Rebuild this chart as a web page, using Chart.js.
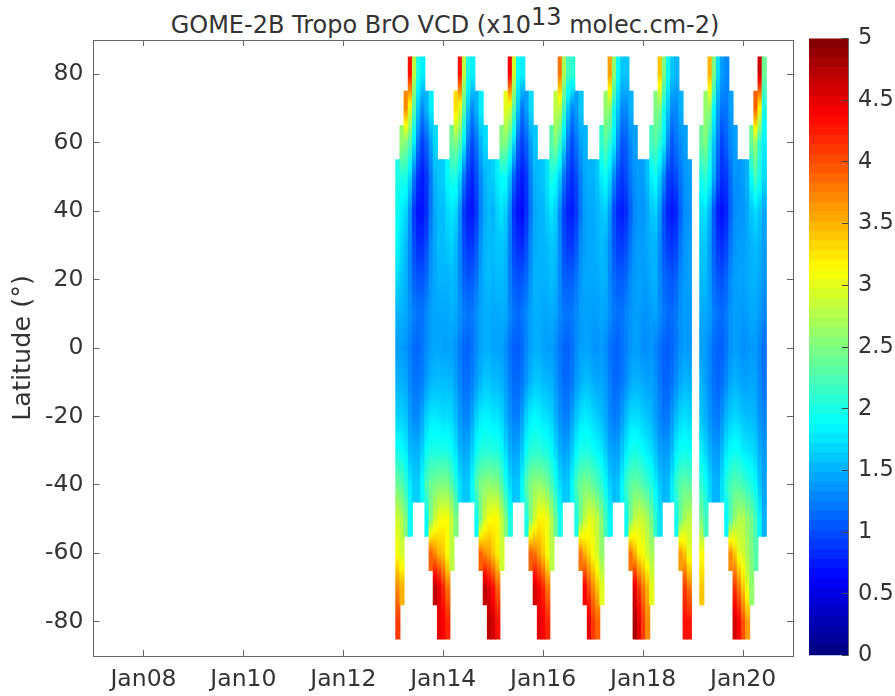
<!DOCTYPE html>
<html><head><meta charset="utf-8">
<script src="https://cdn.jsdelivr.net/npm/chart.js@4"></script>
<style>
html,body{margin:0;padding:0;background:#fff}
#wrap{position:relative;width:895px;height:696px;overflow:hidden}
canvas{position:absolute;left:0;top:0}
#ttl{position:absolute;left:0;width:890px;top:11px;text-align:center;font:24px "DejaVu Sans";color:#333;white-space:nowrap}
#ttl sup{font-size:24px;line-height:0;vertical-align:8px}
</style></head><body>
<div id="wrap">
<div id="ttl">GOME-2B Tropo BrO VCD (x10<sup>13</sup> molec.cm-2)</div>
<canvas id="map" width="895" height="696"></canvas>
<canvas id="bar" width="895" height="696"></canvas>
</div>
<script>
const _ = null;
// Monthly columns from Jan 2013 (one line per year); rows are latitude bins, 10 degrees wide.
const lat80 = [
_,_,_,4.3,2.8,2.0,1.8,_,_,_,_,_,
_,_,_,4.3,2.8,2.0,1.8,_,_,_,_,_,
_,_,_,4.4,2.9,1.9,1.8,_,_,_,_,_,
_,_,_,3.8,2.7,2.2,2.1,_,_,_,_,_,
_,_,_,3.6,2.6,1.9,1.6,1.6,_,_,_,_,
_,_,_,3.4,2.5,1.9,1.6,1.5,_,_,_,_,
_,_,_,3.5,2.5,1.7,1.4,1.3,_,_,_,_,
_,_,_,4.6,2.4];
const lat70 = [
_,_,3.7,3.0,2.3,1.6,1.3,1.5,1.8,_,_,_,
_,_,3.3,3.0,2.3,1.6,1.3,1.5,1.8,_,_,_,
_,_,3.0,2.9,2.3,1.6,1.2,1.4,1.7,_,_,_,
_,_,2.8,2.8,2.2,1.6,1.3,1.4,1.6,_,_,_,
_,_,2.6,2.6,2.0,1.6,1.3,1.3,1.5,_,_,_,
_,_,2.5,2.5,2.0,1.6,1.3,1.3,1.5,_,_,_,
_,_,2.6,2.6,1.9,1.4,1.2,1.2,1.4,_,_,_,
_,_,3.9,3.1,2.0];
const lat60 = [
_,2.6,2.5,2.3,1.8,1.2,0.95,1.1,1.4,1.7,_,_,
_,2.4,2.5,2.3,1.8,1.2,1.0,1.2,1.5,1.7,_,_,
_,2.5,2.5,2.2,1.7,1.1,0.95,1.1,1.4,1.6,_,_,
_,2.3,2.5,2.2,1.7,1.2,1.0,1.2,1.4,1.5,_,_,
_,2.1,2.3,2.1,1.8,1.3,1.05,1.1,1.3,1.4,_,_,
_,2.2,2.3,2.1,1.8,1.3,1.05,1.2,1.3,1.4,_,_,
_,2.4,2.5,2.1,1.6,1.2,0.95,1.1,1.3,1.4,_,_,
_,2.4,2.6,2.1,1.8];
const lat50 = [
2.0,2.0,2.0,1.7,1.2,0.85,0.75,0.9,1.2,1.5,1.6,1.65,
1.85,2.0,2.0,1.7,1.2,0.9,0.8,1.0,1.3,1.5,1.6,1.65,
1.8,1.9,1.9,1.6,1.1,0.85,0.75,0.9,1.25,1.5,1.55,1.6,
1.75,2.0,1.9,1.65,1.2,0.95,0.85,1.0,1.25,1.45,1.5,1.5,
1.6,1.8,1.9,1.7,1.3,1.0,0.9,1.0,1.2,1.35,1.4,1.4,
1.55,1.8,1.9,1.65,1.3,0.95,0.9,1.0,1.2,1.35,1.4,_,
_,2.0,2.1,1.9,1.45,1.05,0.85,0.9,1.15,1.35,1.35,1.4,
1.5,1.9,2.2,2.0,1.7];
const lat40 = [
1.95,1.8,1.7,1.35,0.9,0.7,0.7,0.85,1.2,1.45,1.55,1.55,
1.7,1.75,1.7,1.35,0.9,0.75,0.72,0.9,1.25,1.45,1.55,1.5,
1.65,1.75,1.65,1.3,0.85,0.7,0.68,0.85,1.2,1.45,1.5,1.5,
1.65,1.75,1.65,1.3,0.95,0.78,0.75,0.9,1.2,1.4,1.45,1.45,
1.5,1.6,1.65,1.4,1.0,0.8,0.75,0.85,1.1,1.3,1.35,1.35,
1.45,1.6,1.65,1.4,1.0,0.78,0.72,0.8,1.1,1.3,1.35,_,
_,1.7,1.75,1.5,1.05,0.75,0.68,0.78,1.1,1.3,1.35,1.35,
1.45,1.6,1.7,1.6,1.45];
const lat30 = [
1.85,1.7,1.55,1.3,1.0,0.85,0.85,1.0,1.3,1.45,1.55,1.55,
1.6,1.65,1.55,1.3,1.0,0.88,0.88,1.05,1.35,1.5,1.55,1.55,
1.6,1.6,1.55,1.25,0.95,0.85,0.82,1.0,1.3,1.45,1.5,1.5,
1.55,1.6,1.55,1.3,1.0,0.9,0.9,1.05,1.3,1.4,1.45,1.45,
1.5,1.55,1.5,1.3,1.05,0.92,0.9,1.0,1.2,1.35,1.4,1.4,
1.45,1.5,1.5,1.3,1.05,0.92,0.88,0.95,1.2,1.35,1.4,_,
_,1.6,1.6,1.4,1.1,0.9,0.85,0.95,1.2,1.35,1.4,1.4,
1.45,1.5,1.55,1.5,1.4];
const lat20 = [
1.7,1.6,1.5,1.3,1.1,1.05,1.05,1.15,1.35,1.45,1.5,1.5,
1.5,1.55,1.5,1.3,1.1,1.05,1.08,1.2,1.4,1.5,1.55,1.5,
1.55,1.55,1.5,1.25,1.08,1.02,1.05,1.15,1.35,1.5,1.5,1.5,
1.5,1.55,1.5,1.3,1.1,1.08,1.1,1.2,1.35,1.45,1.45,1.45,
1.45,1.5,1.5,1.3,1.15,1.08,1.08,1.15,1.3,1.4,1.42,1.4,
1.4,1.48,1.5,1.3,1.15,1.08,1.05,1.12,1.3,1.38,1.4,_,
_,1.55,1.55,1.4,1.15,1.05,1.02,1.12,1.3,1.4,1.42,1.42,
1.45,1.5,1.5,1.45,1.35];
const lat10 = [
1.5,1.5,1.45,1.35,1.25,1.2,1.2,1.3,1.4,1.45,1.45,1.45,
1.45,1.5,1.45,1.35,1.25,1.2,1.22,1.32,1.42,1.48,1.48,1.45,
1.45,1.48,1.45,1.3,1.2,1.15,1.2,1.3,1.42,1.48,1.48,1.45,
1.45,1.48,1.42,1.3,1.22,1.2,1.22,1.3,1.4,1.42,1.42,1.4,
1.4,1.45,1.42,1.32,1.22,1.18,1.2,1.28,1.35,1.4,1.4,1.35,
1.35,1.4,1.42,1.32,1.22,1.15,1.15,1.22,1.35,1.4,1.38,_,
_,1.45,1.45,1.4,1.25,1.18,1.15,1.22,1.35,1.4,1.4,1.38,
1.4,1.45,1.45,1.38,1.28];
const lat0 = [
1.4,1.4,1.35,1.25,1.15,1.12,1.2,1.3,1.4,1.45,1.45,1.42,
1.42,1.42,1.35,1.22,1.12,1.1,1.18,1.3,1.42,1.48,1.48,1.42,
1.42,1.42,1.32,1.18,1.1,1.08,1.15,1.28,1.42,1.48,1.48,1.42,
1.4,1.4,1.32,1.2,1.12,1.1,1.18,1.3,1.4,1.42,1.42,1.35,
1.35,1.38,1.32,1.2,1.12,1.1,1.18,1.25,1.35,1.4,1.38,1.32,
1.32,1.35,1.28,1.18,1.1,1.08,1.12,1.22,1.35,1.4,1.36,_,
_,1.4,1.38,1.28,1.15,1.1,1.1,1.2,1.35,1.4,1.38,1.32,
1.35,1.38,1.38,1.28,1.18];
const latS10 = [
1.5,1.5,1.45,1.3,1.2,1.2,1.25,1.4,1.5,1.55,1.55,1.55,
1.55,1.52,1.42,1.28,1.18,1.18,1.25,1.4,1.52,1.6,1.6,1.55,
1.55,1.5,1.4,1.25,1.15,1.15,1.22,1.38,1.52,1.6,1.6,1.55,
1.52,1.5,1.38,1.25,1.15,1.15,1.22,1.38,1.48,1.55,1.55,1.48,
1.45,1.45,1.38,1.25,1.15,1.15,1.22,1.32,1.45,1.5,1.5,1.45,
1.42,1.42,1.35,1.22,1.12,1.12,1.2,1.32,1.45,1.52,1.5,_,
_,1.5,1.42,1.3,1.18,1.12,1.18,1.3,1.45,1.5,1.48,1.42,
1.42,1.45,1.42,1.3,1.2];
const latS20 = [
1.65,1.65,1.6,1.4,1.3,1.3,1.45,1.65,1.75,1.78,1.75,1.7,
1.72,1.68,1.55,1.38,1.28,1.28,1.45,1.65,1.78,1.82,1.8,1.75,
1.75,1.68,1.5,1.35,1.25,1.25,1.42,1.65,1.8,1.85,1.82,1.75,
1.72,1.65,1.5,1.35,1.25,1.25,1.42,1.6,1.72,1.78,1.75,1.68,
1.62,1.55,1.45,1.3,1.22,1.25,1.4,1.55,1.7,1.72,1.7,1.62,
1.58,1.52,1.4,1.28,1.2,1.22,1.38,1.55,1.68,1.72,1.68,_,
_,1.58,1.5,1.35,1.25,1.22,1.35,1.52,1.62,1.68,1.65,1.58,
1.55,1.55,1.5,1.35,1.28];
const latS30 = [
1.95,1.9,1.8,1.55,1.5,1.5,1.65,1.9,2.0,2.0,2.0,2.0,
2.0,1.9,1.75,1.52,1.45,1.48,1.65,1.9,2.02,2.05,2.05,2.02,
2.02,1.9,1.7,1.5,1.42,1.45,1.62,1.9,2.05,2.08,2.08,2.02,
2.0,1.88,1.7,1.5,1.42,1.45,1.62,1.85,1.98,2.0,2.0,1.92,
1.85,1.78,1.62,1.45,1.4,1.42,1.6,1.8,1.95,1.98,1.95,1.88,
1.8,1.72,1.58,1.42,1.38,1.4,1.55,1.8,1.92,1.95,1.92,_,
_,1.8,1.68,1.5,1.4,1.38,1.55,1.75,1.88,1.92,1.9,1.8,
1.75,1.72,1.65,1.48,1.38];
const latS40 = [
2.4,2.3,2.1,1.8,1.65,1.65,1.9,2.25,2.4,2.45,2.5,2.5,
2.5,2.3,2.05,1.75,1.6,1.62,1.88,2.3,2.5,2.55,2.6,2.55,
2.55,2.3,2.0,1.72,1.58,1.6,1.88,2.3,2.5,2.6,2.6,2.55,
2.45,2.25,2.0,1.72,1.6,1.62,1.88,2.22,2.4,2.48,2.45,2.35,
2.25,2.1,1.9,1.65,1.55,1.6,1.85,2.15,2.32,2.38,2.35,2.25,
2.15,2.02,1.82,1.62,1.52,1.55,1.8,2.12,2.3,2.35,2.32,_,
_,2.1,1.95,1.7,1.52,1.5,1.75,2.05,2.2,2.3,2.28,2.2,
2.1,2.02,1.88,1.62,1.42];
const latS50 = [
2.9,2.75,2.5,1.9,_,_,_,1.9,2.5,2.85,3.05,3.1,
3.1,2.85,2.5,_,_,_,_,1.9,2.45,2.9,3.1,3.15,
3.15,2.85,2.5,2.0,_,_,_,2.0,2.5,2.9,3.15,3.15,
3.05,2.75,2.4,1.95,_,_,_,2.0,2.45,2.8,3.0,2.95,
2.8,2.55,2.2,1.85,_,_,_,1.95,2.45,2.8,2.9,2.85,
2.7,2.45,2.1,1.75,_,_,_,1.95,2.4,2.7,2.8,_,
_,2.45,2.2,_,_,_,_,1.85,2.25,2.6,2.75,2.75,
2.6,2.45,2.2,1.85,1.5];
const latS60 = [
3.1,2.9,_,_,_,_,_,_,3.9,3.7,3.5,3.4,
3.1,2.8,_,_,_,_,_,_,3.9,3.7,3.6,3.4,
3.2,2.9,_,_,_,_,_,_,3.9,3.8,3.6,3.4,
3.1,2.8,_,_,_,_,_,_,3.8,3.5,3.3,3.1,
2.9,2.6,_,_,_,_,_,_,3.8,3.5,3.2,3.1,
2.9,2.7,_,_,_,_,_,_,3.6,3.4,3.0,_,
_,3.1,_,_,_,_,_,_,3.7,3.4,3.0,2.9,
2.7,2.5,2.3];
const latS70 = [
3.7,3.5,_,_,_,_,_,_,_,4.7,4.5,4.2,
3.8,_,_,_,_,_,_,_,_,4.7,4.5,4.3,
3.9,_,_,_,_,_,_,_,_,4.6,4.4,4.2,
3.8,_,_,_,_,_,_,_,_,4.4,4.0,3.7,
3.4,3.0,_,_,_,_,_,_,_,4.5,4.1,3.8,
3.5,3.0,_,_,_,_,_,_,_,4.1,3.8,_,
_,3.4,_,_,_,_,_,_,_,4.1,3.8,3.4,
3.0,2.6];
const latS80 = [
4.1,_,_,_,_,_,_,_,_,_,4.5,4.4,
4.2,_,_,_,_,_,_,_,_,_,4.7,4.6,
4.3,_,_,_,_,_,_,_,_,_,4.5,4.4,
4.2,_,_,_,_,_,_,_,_,_,4.5,4.1,
3.9,_,_,_,_,_,_,_,_,4.8,4.5,4.1,
3.7,_,_,_,_,_,_,_,_,4.3,4.3,_,
_,_,_,_,_,_,_,_,_,4.6,4.4,4.0,
3.6];
const latitudes = [80,70,60,50,40,30,20,10,0,-10,-20,-30,-40,-50,-60,-70,-80];
const rows = [lat80,lat70,lat60,lat50,lat40,lat30,lat20,lat10,lat0,latS10,latS20,latS30,latS40,latS50,latS60,latS70,latS80];
const xTickLabels = ['Jan08','Jan10','Jan12','Jan14','Jan16','Jan18','Jan20'];
const yTickValues = [-80,-60,-40,-20,0,20,40,60,80];
const barTickValues = [0,0.5,1,1.5,2,2.5,3,3.5,4,4.5,5];
const firstColumn = 73.1;   // months after Jan 2007 of the Jan 2013 column
const binHalf = 5;
const cmin = 0, cmax = 5, levels = 64;

const cl = v => Math.max(0, Math.min(1, v));
function jet(v){
  const t = cl((v-cmin)/(cmax-cmin));
  return 'rgb('+[3,2,1].map(k => Math.round(255*cl(1.5-Math.abs(4*t-k)))).join(',')+')';
}
function rowFill(ctx){
  const chart = ctx.chart, y = chart.scales.y, p = ctx.raw;
  if(!p || !y) return '#fff';
  const top = y.getPixelForValue(p.y[1]), bot = y.getPixelForValue(p.y[0]);
  if(!isFinite(top) || !isFinite(bot)) return jet(p.v);
  const i = ctx.datasetIndex, v = p.v;
  const up = i>0 && rows[i-1][p.m]!=null ? (rows[i-1][p.m]+v)/2 : v;
  const dn = i<rows.length-1 && rows[i+1][p.m]!=null ? (rows[i+1][p.m]+v)/2 : v;
  const g = chart.ctx.createLinearGradient(0,top,0,bot);
  for(let s=0;s<=8;s++){
    const f=s/8, val = f<0.5 ? up+(v-up)*f*2 : v+(dn-v)*(f-0.5)*2;
    g.addColorStop(f,jet(val));
  }
  return g;
}
const datasets = rows.map((r,i)=>({
  data: r.map((v,m)=>v==null?null:{x:firstColumn+m,y:[latitudes[i]-binHalf,latitudes[i]+binHalf],v,m}).filter(Boolean),
  backgroundColor: rowFill, borderWidth:0, inflateAmount:0.5,
  barPercentage:1, categoryPercentage:1, stack:'map'
}));
const AX='#666', TXT='#333', FS=23.5;
const tickGrid={drawOnChartArea:false,drawTicks:true,tickLength:-6,tickWidth:1,tickColor:AX,offset:false};
const monthTicks = xTickLabels.map((l,i)=>12+24*i);
new Chart(document.getElementById('map'),{
  type:'bar',
  data:{datasets},
  options:{
    responsive:false,animation:false,events:[],
    layout:{padding:{left:0,top:40,right:102,bottom:0}},
    plugins:{legend:{display:false},tooltip:{enabled:false},title:{display:false}},
    scales:{
      x:{type:'linear',min:0,max:168,offset:false,stacked:true,position:'bottom',
        afterFit:s=>{s.height=40},
        afterBuildTicks:s=>{s.ticks=monthTicks.map(value=>({value}))},
        grid:tickGrid,border:{color:AX},
        ticks:{autoSkip:false,maxRotation:0,padding:16,color:TXT,font:{family:'DejaVu Sans',size:FS},
          callback:v=>xTickLabels[monthTicks.indexOf(v)]}},
      x2:{type:'linear',min:0,max:168,offset:false,position:'top',
        afterFit:s=>{s.height=0},
        afterBuildTicks:s=>{s.ticks=monthTicks.map(value=>({value}))},
        grid:tickGrid,border:{color:AX},ticks:{display:false}},
      y:{type:'linear',min:-90,max:90,stacked:false,position:'left',
        afterFit:s=>{s.width=93.5},
        afterBuildTicks:s=>{s.ticks=yTickValues.map(value=>({value}))},
        grid:tickGrid,border:{color:AX},
        title:{display:true,text:'Latitude (°)',color:TXT,font:{family:'DejaVu Sans',size:25.5},padding:{top:8,bottom:0}},
        ticks:{autoSkip:false,padding:16,color:TXT,font:{family:'DejaVu Sans',size:FS},callback:v=>String(v)}},
      y2:{type:'linear',min:-90,max:90,position:'right',
        afterFit:s=>{s.width=0},
        afterBuildTicks:s=>{s.ticks=yTickValues.map(value=>({value}))},
        grid:tickGrid,border:{color:AX},ticks:{display:false}}
    }
  }
});
const step=(cmax-cmin)/levels;
const barSets=[];
for(let k=0;k<levels;k++){
  const lo=cmin+k*step;
  barSets.push({data:[[lo,lo+step]],backgroundColor:jet(lo+step/2),borderWidth:0,inflateAmount:0.5,barPercentage:1,categoryPercentage:1,stack:'bar'});
}
new Chart(document.getElementById('bar'),{
  type:'bar',
  data:{labels:['scale'],datasets:barSets},
  options:{
    responsive:false,animation:false,events:[],
    layout:{padding:{left:809,top:38.5,right:0,bottom:40.5}},
    plugins:{legend:{display:false},tooltip:{enabled:false},title:{display:false}},
    scales:{
      x:{display:false,stacked:true},
      y:{type:'linear',min:cmin,max:cmax,stacked:false,position:'right',
        afterFit:s=>{s.width=47},
        afterBuildTicks:s=>{s.ticks=barTickValues.map(value=>({value}))},
        grid:{drawOnChartArea:false,drawTicks:true,tickLength:-6,tickColor:'#444',z:1},
        border:{color:AX,z:1},
        ticks:{autoSkip:false,padding:16,color:TXT,font:{family:'DejaVu Sans',size:22.5},callback:v=>String(v)}}
    }
  }
});
</script>
</body></html>
